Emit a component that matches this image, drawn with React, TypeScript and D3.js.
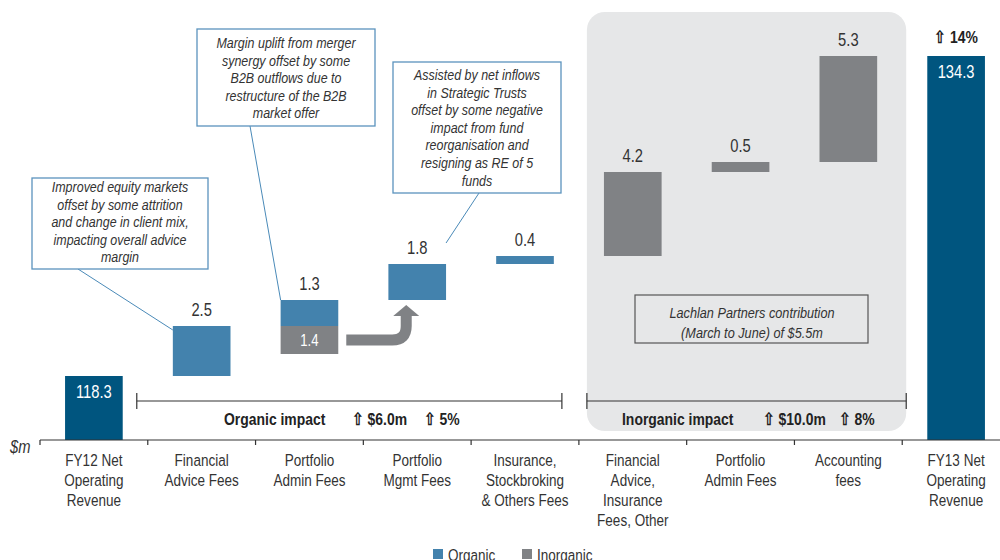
import React from "react";
import * as d3 from "d3";

// categories along the bottom (multi-line labels)
const categories = [
  "FY12 Net Operating Revenue",
  "Financial Advice Fees",
  "Portfolio Admin Fees",
  "Portfolio Mgmt Fees",
  "Insurance, Stockbroking & Others Fees",
  "Financial Advice, Insurance Fees, Other",
  "Portfolio Admin Fees (inorganic)",
  "Accounting fees",
  "FY13 Net Operating Revenue",
];
const categoryLines = [
  ["FY12 Net", "Operating", "Revenue"],
  ["Financial", "Advice Fees"],
  ["Portfolio", "Admin Fees"],
  ["Portfolio", "Mgmt Fees"],
  ["Insurance,", "Stockbroking", "& Others Fees"],
  ["Financial", "Advice,", "Insurance", "Fees, Other"],
  ["Portfolio", "Admin Fees"],
  ["Accounting", "fees"],
  ["FY13 Net", "Operating", "Revenue"],
];
const barTypes = ["total", "organic", "organic", "organic", "organic", "inorganic", "inorganic", "inorganic", "total"];
const barValues = [118.3, 2.5, 1.3, 1.8, 0.4, 4.2, 0.5, 5.3, 134.3];
// inorganic amount shown under the Portfolio Admin bar and moved to Portfolio Mgmt
const reclassValues = [0, 0, 1.4, 0, 0, 0, 0, 0, 0];

const organicImpact = { label: "Organic impact", amount: "$6.0m", pct: "5%" };
const inorganicImpact = { label: "Inorganic impact", amount: "$10.0m", pct: "8%" };
const totalGrowth = "14%";

const callouts = [
  { lines: ["Improved equity markets", "offset by some attrition", "and change in client mix,", "impacting overall advice", "margin"], x: 32, y: 178, w: 176, h: 91, ax: 78, target: 1, first: 14 },
  { lines: ["Margin uplift from merger", "synergy offset by some", "B2B outflows due to", "restructure of the B2B", "market  offer"], x: 197, y: 29, w: 178, h: 97, ax: 250, target: 2, first: 19 },
  { lines: ["Assisted by net inflows", "in Strategic Trusts", "offset by some negative", "impact from fund", "reorganisation and", "resigning as RE of 5", "funds"], x: 393, y: 62, w: 168, h: 131, ax: 479, target: 3, first: 18 },
];
const lachlanNote = ["Lachlan Partners contribution", "(March to June) of $5.5m"];
const legendItems = [
  { key: "organic", label: "Organic" },
  { key: "inorganic", label: "Inorganic" },
];

const colors: Record<string, string> = {
  total: "#00557f",
  organic: "#4382ad",
  inorganic: "#808285",
};
const FONT = "'Liberation Sans', Arial, sans-serif";
const TEXT = "#333";

const width = 1000;
const height = 560;
const axisY = 440;

// narrow text: Liberation Sans squeezed horizontally
function T(props: any) {
  const { x, y, anchor = "start", size = 16, weight, italic, fill = TEXT, sx = 0.82, children } = props;
  return (
    <text transform={`translate(${x},${y}) scale(${sx},1)`} textAnchor={anchor} fontFamily={FONT}
      fontSize={size} fontWeight={weight} fontStyle={italic ? "italic" : undefined} fill={fill}>
      {children}
    </text>
  );
}

export default function App() {
  const x = d3.scaleBand<string>().domain(categories).range([40, 1010]).padding(0);
  const barW = x.bandwidth() * 0.535;
  const cx = (i: number) => (x(categories[i]) as number) + x.bandwidth() / 2;
  const xl = (i: number) => x(categories[i]) as number;
  // broken axis: totals start at the category axis
  const y = d3.scaleLinear().domain([118.3, 134.3]).range([376, 56]);

  // waterfall
  let cum = 0;
  const bars = barValues.map((v, i) => {
    const t = barTypes[i];
    if (t === "total") {
      cum = v;
      return { i, t, v, y0: axisY, y1: y(v) };
    }
    const b = { i, t, v, y0: y(cum), y1: y(cum + v), base: cum };
    cum += v;
    return b;
  });

  const reclass = reclassValues
    .map((v, i) => ({ v, i }))
    .filter((d) => d.v > 0)
    .map((d) => {
      const b = bars[d.i] as any;
      return { ...d, top: y(b.base), bottom: y(b.base - d.v) };
    });

  // panel around the inorganic categories
  const inorgIdx = barTypes.map((t, i) => (t === "inorganic" ? i : -1)).filter((i) => i >= 0);
  const orgIdx = barTypes.map((t, i) => (t === "organic" ? i : -1)).filter((i) => i >= 0);
  const panelX0 = xl(inorgIdx[0]) + 8;
  const panelX1 = xl(inorgIdx[inorgIdx.length - 1]) + x.bandwidth() + 4;
  const orgX0 = xl(orgIdx[0]) - 11;
  const orgX1 = xl(orgIdx[orgIdx.length - 1]) + x.bandwidth() - 17;

  const bracket = (x0: number, x1: number) => (
    <g stroke="#333" strokeWidth={1.2}>
      <line x1={x0} x2={x1} y1={401} y2={401} />
      <line x1={x0} x2={x0} y1={393} y2={409} />
      <line x1={x1} x2={x1} y1={393} y2={409} />
    </g>
  );

  const impactText = (d: typeof organicImpact, xs: number[]) => (
    <g fill="#222">
      <T x={xs[0]} y={425} size={17} weight="bold" fill="#222">{d.label}</T>
      <T x={xs[1]} y={425} size={17} weight="bold" fill="#222">{"⇧ " + d.amount}</T>
      <T x={xs[2]} y={425} size={17} weight="bold" fill="#222">{"⇧ " + d.pct}</T>
    </g>
  );

  return (
    <svg width={width} height={height} style={{ position: "absolute", left: 0, top: 0, background: "#fff" }}>
      {/* inorganic panel */}
      <rect x={panelX0} y={12} width={panelX1 - panelX0} height={419} rx={18} fill="#e6e7e8" />
      <rect x={635} y={295} width={233} height={48} fill="#e6e7e8" stroke="#555" strokeWidth={1.2} />
      {lachlanNote.map((l, k) => (
        <T key={k} x={752} y={318 + k * 20} anchor="middle" size={15.5} italic>{l}</T>
      ))}

      {/* brackets */}
      {bracket(orgX0, orgX1)}
      {bracket(panelX0, panelX1)}
      {impactText(organicImpact, [224, 352, 424])}
      {impactText(inorganicImpact, [622, 763, 839])}

      {/* bars */}
      {bars.map((b) => (
        <rect key={b.i} x={cx(b.i) - barW / 2} y={Math.min(b.y0, b.y1)} width={barW}
          height={Math.abs(b.y0 - b.y1)} fill={colors[b.t]} />
      ))}
      {reclass.map((r) => (
        <g key={"r" + r.i}>
          <rect x={cx(r.i) - barW / 2} y={r.top} width={barW} height={r.bottom - r.top} fill={colors.inorganic} />
          <T x={cx(r.i)} y={(r.top + r.bottom) / 2 + 6} anchor="middle" size={16} fill="#fff">
            {r.v.toFixed(1)}
          </T>
        </g>
      ))}

      {/* reclass arrow to the next category */}
      {reclass.map((r) => {
        const yMid = (r.top + r.bottom) / 2;
        const xs = cx(r.i) + barW / 2 + 8;
        const target = bars[r.i + 1];
        const xa = cx(r.i + 1) - 11;
        const tip = target.y0 + 5;
        const headBase = tip + 11;
        const rad = 14;
        return (
          <g key={"a" + r.i} fill={colors.inorganic}>
            <path d={`M${xs},${yMid} L${xa - rad},${yMid} Q${xa},${yMid} ${xa},${yMid - rad} L${xa},${headBase}`}
              stroke={colors.inorganic} strokeWidth={11} fill="none" />
            <path d={`M${xa - 13},${headBase} L${xa},${tip} L${xa + 13},${headBase} Z`} />
          </g>
        );
      })}

      {/* value labels */}
      {bars.map((b) =>
        b.t === "total" ? (
          <T key={"v" + b.i} x={cx(b.i)} y={b.y1 + 22} anchor="middle" size={18} fill="#fff">
            {b.v.toFixed(1)}
          </T>
        ) : (
          <T key={"v" + b.i} x={cx(b.i)} y={b.y1 - 10} anchor="middle" size={18}>
            {b.v.toFixed(1)}
          </T>
        )
      )}
      <T x={cx(8)} y={y(barValues[8]) - 13} anchor="middle" size={17} weight="bold" fill="#222">
        {"⇧ " + totalGrowth}
      </T>

      {/* callouts */}
      {callouts.map((c, k) => {
        const tb = bars[c.target];
        const tx = k === 2 ? cx(c.target) + barW / 2 : cx(c.target) - barW / 2;
        const ty = k === 2 ? tb.y1 - 21 : k === 0 ? tb.y1 + 4 : tb.y1;
        return (
          <g key={"c" + k}>
            <line x1={c.ax} y1={c.y + c.h} x2={tx} y2={ty} stroke="#4a8ab8" strokeWidth={1} />
            <rect x={c.x} y={c.y} width={c.w} height={c.h} fill="#fff" stroke="#5b93bd" strokeWidth={1.3} />
            {c.lines.map((l, j) => (
              <T key={j} x={c.x + c.w / 2} y={c.y + c.first + j * 17.6} anchor="middle" size={14.5} sx={0.86} italic>{l}</T>
            ))}
          </g>
        );
      })}

      {/* category axis */}
      <g stroke="#333" strokeWidth={1.2}>
        <line x1={40} x2={1010} y1={axisY} y2={axisY} />
        {categories.map((c) => (
          <line key={c} x1={x(c) as number} x2={x(c) as number} y1={axisY} y2={axisY + 5} />
        ))}
      </g>
      <T x={10} y={453} size={18} italic>$m</T>
      {categoryLines.map((lines, i) =>
        lines.map((l, j) => (
          <T key={i + "-" + j} x={cx(i)} y={466 + j * 20} anchor="middle" size={16.5}>{l}</T>
        ))
      )}

      {/* legend */}
      {legendItems.map((d, k) => (
        <g key={d.key} transform={`translate(${433 + k * 89},549)`}>
          <rect width={10} height={10} fill={colors[d.key]} />
          <T x={15} y={12} size={16.5}>{d.label}</T>
        </g>
      ))}
    </svg>
  );
}
